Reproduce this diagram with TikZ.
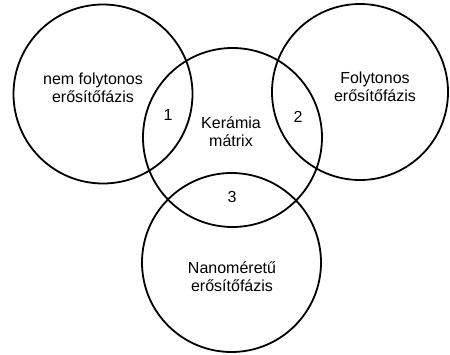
\documentclass[tikz,border=0pt]{standalone}
\usepackage{fontspec}
\setmainfont{Liberation Sans}
\usepackage{tikz}

\begin{document}
\begin{tikzpicture}[x=1pt,y=-1pt]
      \useasboundingbox (0,0) rectangle (450,354);
      \tikzset{label/.style={align=center,inner sep=0pt,font=\fontsize{16}{18}\selectfont}}

      \draw[line width=1.8pt] (103,94) circle (89.5pt);
      \draw[line width=1.8pt] (360,92) circle (88pt);
      \draw[line width=1.8pt] (232.5,137.5) circle (89.5pt);
      \draw[line width=1.8pt] (231.5,262.5) circle (89.5pt);

      \node[label] (nemfoly) at (93,88) {nem folytonos\\erősítőfázis};
      \node[label] (foly) at (375,87) {Folytonos\\erősítőfázis};
      \node[label] (matrix) at (231,132) {Kerámia\\mátrix};
      \node[label] (nano) at (232,277) {Nanoméretű\\erősítőfázis};

      \node[label] (egy) at (168,115) {1};
      \node[label] (ketto) at (298,117) {2};
      \node[label] (harom) at (232,197) {3};
    \end{tikzpicture}
\end{document}
